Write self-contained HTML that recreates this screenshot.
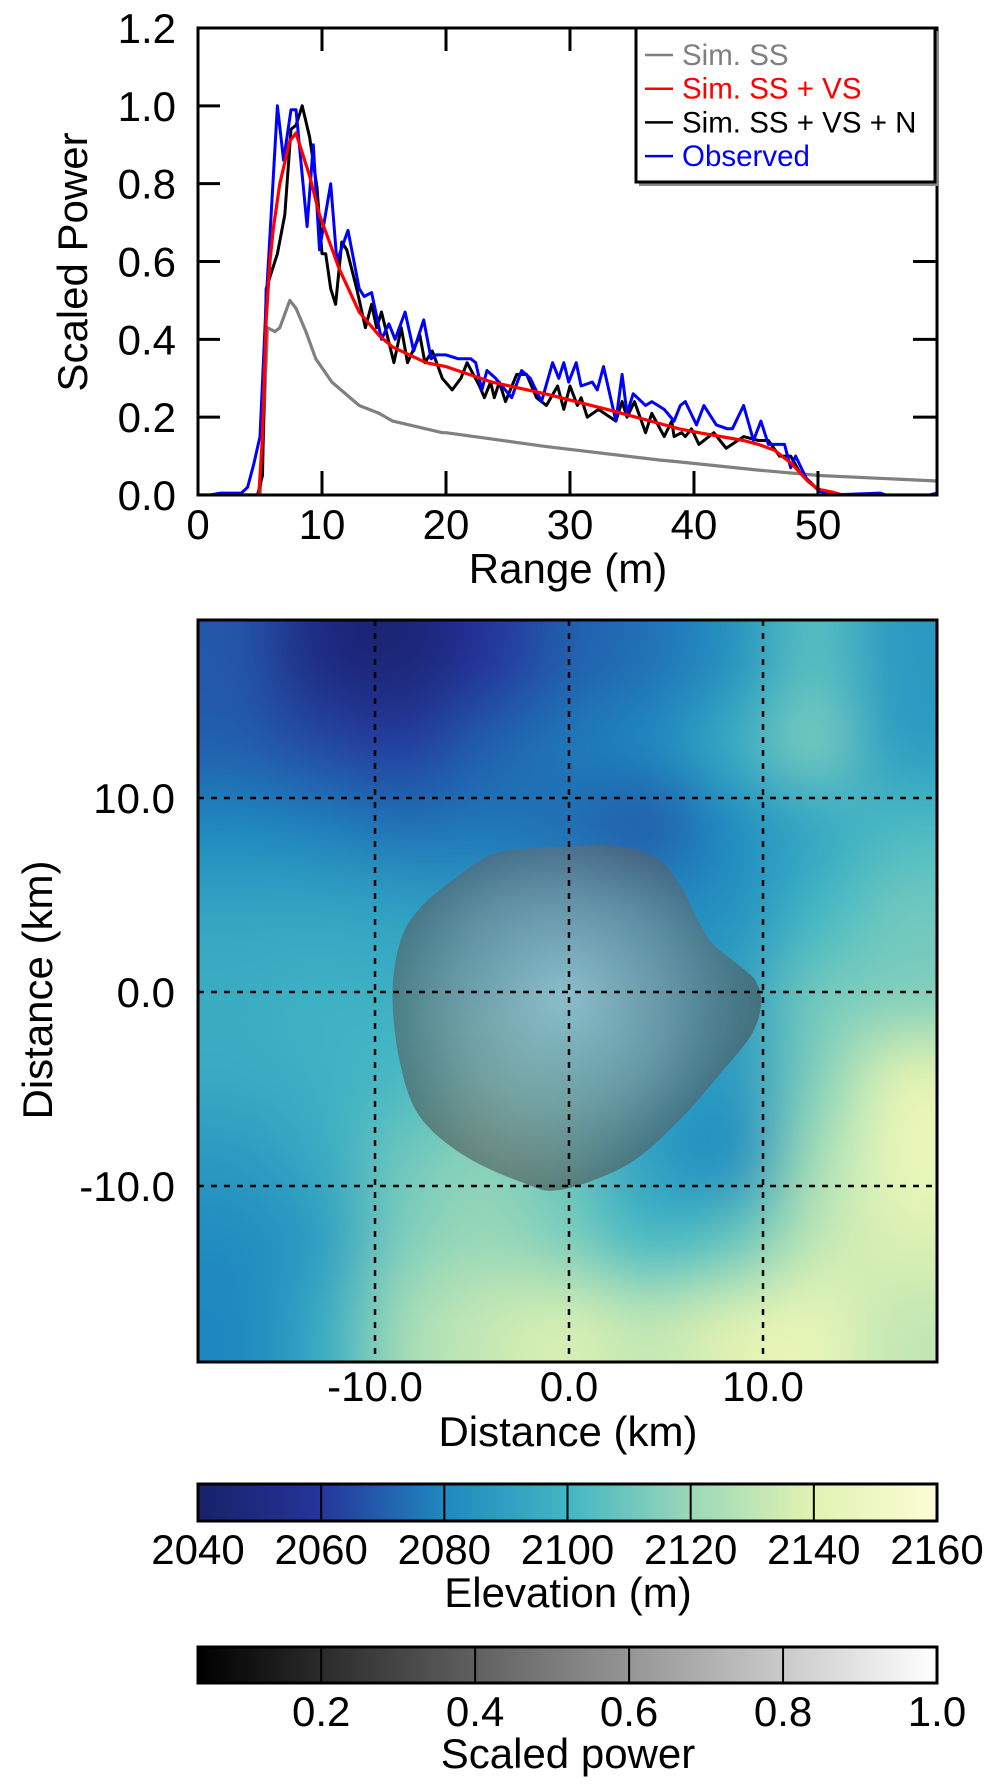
<!DOCTYPE html>
<html><head><meta charset="utf-8">
<style>
html,body{margin:0;padding:0;background:#fff;}
#wrap{position:relative;width:1002px;height:1792px;overflow:hidden;font-family:"Liberation Sans",Arial,sans-serif;}
#heat{position:absolute;left:198px;top:620px;}
svg{position:absolute;left:0;top:0;}
text{font-family:"Liberation Sans",Arial,sans-serif;}
</style></head>
<body>
<div id="wrap">
<canvas id="heat" width="739" height="742"></canvas>
<svg id="svg" width="1002" height="1792" xmlns="http://www.w3.org/2000/svg">
<defs>
<linearGradient id="elevGrad" x1="0" x2="1" y1="0" y2="0">
<stop offset="0" stop-color="#17216a"/><stop offset="0.1667" stop-color="#25359a"/>
<stop offset="0.3333" stop-color="#1f88bf"/><stop offset="0.5" stop-color="#41b6c4"/>
<stop offset="0.6667" stop-color="#9ad8b8"/><stop offset="0.8333" stop-color="#e2f3b2"/>
<stop offset="1" stop-color="#fbfdd6"/></linearGradient>
<linearGradient id="grayGrad" x1="0" x2="1" y1="0" y2="0">
<stop offset="0" stop-color="#000"/><stop offset="1" stop-color="#fff"/></linearGradient>
<radialGradient id="blobGrad" gradientUnits="userSpaceOnUse" cx="565" cy="995" r="200">
<stop offset="0" stop-color="#d2d2d2"/><stop offset="0.55" stop-color="#8a8a8a"/><stop offset="1" stop-color="#404040"/></radialGradient>
<clipPath id="plotClip"><rect x="198" y="28" width="739" height="467"/></clipPath>
</defs>
<g id="topChart"></g>
<g id="mapChart"></g>
<g id="bars"></g>
</svg>
</div>
<script>
// ---------------- Top chart data ----------------
const simSSRange = [0,5.0,5.2,5.6,6.2,6.6,7.4,7.9,8.7,9.5,10.8,13,14.6,15.7,19.7,20,28,37.2,38.8,45.2,50.1,59.6];
const simSSPower = [0,0,0.1,0.43,0.42,0.43,0.50,0.48,0.42,0.35,0.29,0.23,0.21,0.19,0.16,0.16,0.125,0.09,0.085,0.064,0.05,0.036];
const simVSRange = [0,4.9,5.2,5.5,5.8,6.1,6.6,7.4,7.9,9,9.8,11.4,13,14.6,15.7,18.4,20,23.7,28,33,38.8,40.4,44,45.2,46.5,47.9,49.2,50,51.1,52,59.6];
const simVSPower = [0,0,0.15,0.45,0.60,0.69,0.80,0.91,0.93,0.82,0.72,0.58,0.47,0.41,0.38,0.34,0.33,0.29,0.26,0.22,0.17,0.16,0.14,0.13,0.115,0.08,0.035,0.015,0.008,0,0];
const simNRange = [0,4.8,5.2,5.5,6.4,7,7.5,7.9,8.4,9,9.6,10,10.3,10.7,11.1,11.6,12,12.8,13.5,14,14.4,14.8,15.8,16.4,16.9,17.9,18.3,18.9,19.7,20.5,21.2,21.7,22.7,23.1,23.6,23.9,24.3,24.8,25.7,26.5,27.3,28.1,29,29.5,30,30.6,30.9,31.4,32.3,33.7,34.2,34.6,35.2,36.1,36.6,37.6,38.2,38.4,39,39.3,39.8,40.4,41.6,42.6,44,45.2,46,46.9,47.8,48.5,49.8,51,59.6];
const simNPower = [0,0,0.05,0.53,0.62,0.72,0.94,0.95,1.0,0.92,0.79,0.62,0.62,0.53,0.49,0.65,0.63,0.53,0.43,0.49,0.43,0.47,0.34,0.43,0.34,0.41,0.34,0.37,0.30,0.27,0.30,0.34,0.28,0.25,0.29,0.25,0.29,0.24,0.31,0.31,0.25,0.23,0.28,0.22,0.28,0.23,0.25,0.20,0.22,0.19,0.24,0.20,0.24,0.16,0.21,0.15,0.19,0.15,0.16,0.15,0.17,0.13,0.16,0.12,0.15,0.14,0.14,0.10,0.10,0.06,0.02,0,0];
const obsRange = [0,1,1.8,3.5,4,4.5,5,5.5,6.4,6.9,7.5,7.9,8.8,9.3,9.8,10.7,11.2,12.1,13,13.4,14,14.8,15.4,15.9,16.7,17.4,18.2,18.8,19.2,20,21,22,22.4,22.9,23.3,24,25.3,26.1,26.8,27.7,28.6,29.1,29.5,29.9,30.5,30.9,31.8,32.2,32.7,33.7,34.2,34.6,35.1,36.1,36.6,37.6,38.4,38.9,39.3,40.2,40.8,41.8,42.7,43.1,44,44.8,45.4,46,47.3,47.8,48.2,49.1,50.1,51,55,55.5,59,59.6];
const obsPower = [0,0,0.005,0.005,0.02,0.08,0.15,0.5,1.0,0.86,0.99,0.99,0.69,0.90,0.63,0.80,0.60,0.68,0.53,0.51,0.52,0.40,0.44,0.40,0.47,0.37,0.45,0.35,0.36,0.36,0.35,0.35,0.34,0.27,0.32,0.30,0.25,0.32,0.30,0.24,0.34,0.30,0.34,0.29,0.34,0.28,0.29,0.27,0.33,0.19,0.31,0.21,0.26,0.23,0.24,0.22,0.19,0.23,0.24,0.18,0.23,0.18,0.17,0.17,0.23,0.14,0.19,0.13,0.13,0.07,0.10,0.04,0.01,0,0.005,0,0,0.005];
const xTicks = [0,10,20,30,40,50];
const yTicks = [0,0.2,0.4,0.6,0.8,1.0,1.2];
const legendLabels = ["Sim. SS","Sim. SS + VS","Sim. SS + VS + N","Observed"];
const legendColors = ["#808080","#ff0000","#000000","#0000ff"];

// ---------------- Map data ----------------
const mapTicks = [-10,0,10];
const mapTickLabels = ["-10.0","0.0","10.0"];
const elevRow0 = [2068,2050,2045,2060,2070,2075,2085,2105,2088];
const elevRow1 = [2070,2065,2062,2070,2076,2080,2095,2112,2090];
const elevRow2 = [2080,2078,2075,2076,2074,2070,2082,2094,2102];
const elevRow3 = [2092,2092,2090,2088,2085,2082,2084,2100,2110];
const elevRow4 = [2096,2098,2097,2095,2092,2090,2090,2110,2114];
const elevRow5 = [2095,2098,2102,2106,2100,2094,2088,2114,2138];
const elevRow6 = [2088,2095,2110,2116,2108,2090,2084,2122,2145];
const elevRow7 = [2082,2090,2114,2120,2114,2102,2108,2130,2138];
const elevRow8 = [2080,2095,2122,2132,2136,2130,2138,2143,2132];
const elevStops = [2040,2060,2080,2100,2120,2140,2160];
const elevColors = ["#17216a","#25359a","#1f88bf","#41b6c4","#9ad8b8","#e2f3b2","#fbfdd6"];
const blobX = [0,1.8,3.6,4.8,5.8,6.6,7.4,8.6,9.6,9.9,9.4,7.8,5.6,3,-0.45,-2.45,-5.45,-7.7,-8.7,-9.1,-8.7,-7.7,-5.95,-3.95,-1.95];
const blobY = [7.5,7.6,7.3,6.7,5.4,3.8,2.5,1.5,0.6,-0.6,-2.2,-4.2,-6.7,-8.9,-10.2,-9.8,-8.4,-6.4,-3.7,-0.2,2.6,4.3,5.8,7.1,7.4];

// ---------------- Colorbar data ----------------
const elevTickLabels = ["2040","2060","2080","2100","2120","2140","2160"];
const powerTicks = [0.2,0.4,0.6,0.8,1.0];
const powerTickLabels = ["0.2","0.4","0.6","0.8","1.0"];
const powerMin = 0.04, powerMax = 1.0;

const NS = "http://www.w3.org/2000/svg";
function mk(parent, tag, attrs, txt){
  const e = document.createElementNS(NS, tag);
  for (const k in attrs) e.setAttribute(k, attrs[k]);
  if (txt !== undefined) e.textContent = txt;
  parent.appendChild(e); return e;
}
const FS = 42;

// ===== top chart =====
const PL=198, PR=937, PT=28, PB=495, XMAX=59.6, YMAX=1.2;
const sx = v => PL + v/XMAX*(PR-PL);
const sy = v => PB - v/YMAX*(PB-PT);
const topG = document.getElementById('topChart');
function drawSeries(xs, ys, color, name, w){
  let d = '';
  xs.forEach((x,i)=>{ d += (i?'L':'M') + sx(x).toFixed(1) + ',' + sy(ys[i]).toFixed(1); });
  const p = mk(topG,'path',{d:d,fill:'none',stroke:color,'stroke-width':w,'stroke-linejoin':'round','clip-path':'url(#plotClip)'});
  
  
}
drawSeries(simSSRange, simSSPower, '#808080', 'sim-ss-line', 3.2);
drawSeries(simNRange, simNPower, '#000000', 'sim-ss-vs-n-line', 3);
drawSeries(obsRange, obsPower, '#0000ff', 'observed-line', 3);
drawSeries(simVSRange, simVSPower, '#ff0000', 'sim-ss-vs-line', 3.2);
const fr = mk(topG,'rect',{x:PL,y:PT,width:PR-PL,height:PB-PT,fill:'none',stroke:'#000','stroke-width':3});
 
xTicks.forEach(t=>{
  if (t>0){
    const a = mk(topG,'line',{x1:sx(t),x2:sx(t),y1:PB,y2:PB-24,stroke:'#000','stroke-width':3});
     
    const b = mk(topG,'line',{x1:sx(t),x2:sx(t),y1:PT,y2:PT+23,stroke:'#000','stroke-width':3});
     
  }
  const l = mk(topG,'text',{x:sx(t),y:539,'font-size':FS,'text-anchor':'middle'},String(t));
   
});
yTicks.forEach(t=>{
  if (t>0 && t<YMAX){
    const a = mk(topG,'line',{x1:PL,x2:PL+22,y1:sy(t),y2:sy(t),stroke:'#000','stroke-width':3});
     
    const b = mk(topG,'line',{x1:PR,x2:PR-24,y1:sy(t),y2:sy(t),stroke:'#000','stroke-width':3});
     
  }
  const l = mk(topG,'text',{x:176,y:sy(t)+15,'font-size':FS,'text-anchor':'end'},t.toFixed(1));
   
});
const xt = mk(topG,'text',{x:568,y:583,'font-size':FS,'text-anchor':'middle'},'Range (m)');
 
const yt = mk(topG,'text',{x:0,y:0,'font-size':FS,'text-anchor':'middle',transform:'translate(87,262) rotate(-90)'},'Scaled Power');
 
const lg = mk(topG,'g',{});
 
mk(lg,'rect',{x:639,y:31,width:300,height:155,fill:'#888'});
mk(lg,'rect',{x:636,y:28,width:299,height:154,fill:'#fff',stroke:'#000','stroke-width':3});
legendLabels.forEach((s,i)=>{
  const yy = 55 + i*33.7;
  const ln = mk(lg,'line',{x1:645,x2:673,y1:yy,y2:yy,stroke:legendColors[i],'stroke-width':2.5});
   
  const tx = mk(lg,'text',{x:682,y:yy+10,'font-size':29.5,fill:legendColors[i]},s);
   
});

// ===== map =====
const ML=198, MR=937, MT=620, MB=1362, KX0=569, KY0=992, KS=19.4;
const mx = v => KX0 + v*KS;
const my = v => KY0 - v*KS;
function hex(c){return [parseInt(c.slice(1,3),16),parseInt(c.slice(3,5),16),parseInt(c.slice(5,7),16)];}
function elevColor(v){
  if (v<=elevStops[0]) return hex(elevColors[0]);
  for (let i=1;i<elevStops.length;i++){
    if (v<=elevStops[i]){
      const f=(v-elevStops[i-1])/(elevStops[i]-elevStops[i-1]);
      const a=hex(elevColors[i-1]), b=hex(elevColors[i]);
      return a.map((c,k)=>Math.round(c+(b[k]-c)*f));
    }
  }
  return hex(elevColors[elevColors.length-1]);
}
const elevGrid = [elevRow0,elevRow1,elevRow2,elevRow3,elevRow4,elevRow5,elevRow6,elevRow7,elevRow8];
(function(){
  const n = elevGrid.length, m = elevGrid[0].length;
  const small = document.createElement('canvas'); small.width=m; small.height=n;
  const sc = small.getContext('2d'); const img = sc.createImageData(m,n);
  elevGrid.forEach((row,r)=>row.forEach((v,c)=>{
    const col = elevColor(v); const k=(r*m+c)*4;
    img.data[k]=col[0];img.data[k+1]=col[1];img.data[k+2]=col[2];img.data[k+3]=255;
  }));
  sc.putImageData(img,0,0);
  const cv = document.getElementById('heat'); const ctx = cv.getContext('2d');
  ctx.imageSmoothingEnabled = true; ctx.imageSmoothingQuality='high';
  ctx.drawImage(small,0,0,cv.width,cv.height);
})();
const mapG = document.getElementById('mapChart');
(function(){
  const pts = blobX.map((x,i)=>[mx(x),my(blobY[i])]); const n=pts.length;
  let d='M'+pts[0][0].toFixed(1)+','+pts[0][1].toFixed(1);
  for(let i=0;i<n;i++){
    const p0=pts[(i-1+n)%n],p1=pts[i],p2=pts[(i+1)%n],p3=pts[(i+2)%n];
    const c1=[p1[0]+(p2[0]-p0[0])/6,p1[1]+(p2[1]-p0[1])/6];
    const c2=[p2[0]-(p3[0]-p1[0])/6,p2[1]-(p3[1]-p1[1])/6];
    d+='C'+c1.map(v=>v.toFixed(1)).join(',')+' '+c2.map(v=>v.toFixed(1)).join(',')+' '+p2.map(v=>v.toFixed(1)).join(',');
  }
  const b = mk(mapG,'path',{d:d+'Z',fill:'url(#blobGrad)','fill-opacity':0.55});
   
})();
mapTicks.forEach((t,i)=>{
  const gv = mk(mapG,'line',{x1:mx(t),x2:mx(t),y1:MT,y2:MB,stroke:'#000','stroke-width':2.5,'stroke-dasharray':'6 7'});
   
  const gh = mk(mapG,'line',{x1:ML,x2:MR,y1:my(t),y2:my(t),stroke:'#000','stroke-width':2.5,'stroke-dasharray':'6 7'});
   
  const lx = mk(mapG,'text',{x:mx(t),y:1401,'font-size':FS,'text-anchor':'middle'},mapTickLabels[i]);
   
  const ly = mk(mapG,'text',{x:175,y:my(t)+15,'font-size':FS,'text-anchor':'end'},mapTickLabels[i]);
   
});
const mf = mk(mapG,'rect',{x:ML,y:MT,width:MR-ML,height:MB-MT,fill:'none',stroke:'#000','stroke-width':3});
 
const mxt = mk(mapG,'text',{x:568,y:1446,'font-size':FS,'text-anchor':'middle'},'Distance (km)');
 
const myt = mk(mapG,'text',{x:0,y:0,'font-size':FS,'text-anchor':'middle',transform:'translate(52,990) rotate(-90)'},'Distance (km)');
 

// ===== colorbars =====
const bars = document.getElementById('bars');
const BL=198, BR=937;
const ex = v => BL + (v-elevStops[0])/(elevStops[elevStops.length-1]-elevStops[0])*(BR-BL);
const px = v => BL + (v-powerMin)/(powerMax-powerMin)*(BR-BL);
const cb1 = mk(bars,'rect',{x:BL,y:1484,width:BR-BL,height:37,fill:'url(#elevGrad)',stroke:'#000','stroke-width':3});
 
elevStops.forEach((v,i)=>{
  if(i>0 && i<elevStops.length-1){
    const d = mk(bars,'line',{x1:ex(v),x2:ex(v),y1:1484,y2:1521,stroke:'#000','stroke-width':2});
     
  }
  const t = mk(bars,'text',{x:ex(v),y:1564,'font-size':FS,'text-anchor':'middle'},elevTickLabels[i]);
   
});
const et = mk(bars,'text',{x:568,y:1607,'font-size':FS,'text-anchor':'middle'},'Elevation (m)');
 
const cb2 = mk(bars,'rect',{x:BL,y:1647,width:BR-BL,height:36,fill:'url(#grayGrad)',stroke:'#000','stroke-width':3});
 
powerTicks.forEach((v,i)=>{
  if (v<powerMax){
    const d = mk(bars,'line',{x1:px(v),x2:px(v),y1:1647,y2:1683,stroke:'#000','stroke-width':2});
     
  }
  const t = mk(bars,'text',{x:px(v),y:1726,'font-size':FS,'text-anchor':'middle'},powerTickLabels[i]);
   
});
const pt = mk(bars,'text',{x:568,y:1768,'font-size':FS,'text-anchor':'middle'},'Scaled power');
 
</script>
</body></html>
